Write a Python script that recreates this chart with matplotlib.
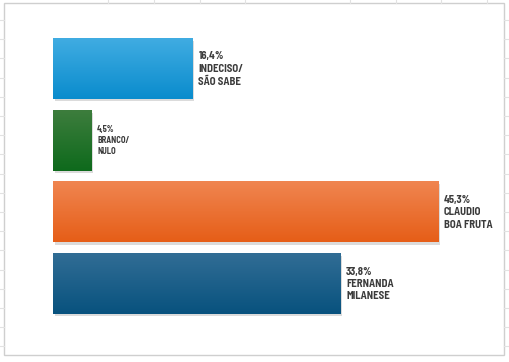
import numpy as np
import matplotlib.pyplot as plt
from matplotlib.lines import Line2D
from matplotlib.patches import Rectangle
from matplotlib.colors import LinearSegmentedColormap
import matplotlib.patheffects as pe

plt.rcParams['font.family'] = ['Barlow Semi Condensed', 'Roboto Condensed', 'DejaVu Sans']

# data
categories = ["INDECISO/\nSÃO SABE", "BRANCO/\nNULO", "CLAUDIO\nBOA FRUTA", "FERNANDA\nMILANESE"]
values = [16.4, 4.5, 45.3, 33.8]
value_labels = ["16,4%", "4,5%", "45,3%", "33,8%"]

# gradient colours (top, bottom) per bar
grad_colors = [("#40ace2", "#0a8ccd"),
               ("#3d7d3d", "#0e6a1c"),
               ("#f08550", "#e65e18"),
               ("#316d95", "#08527e")]
label_sizes = [7.7, 6.1, 7.7, 7.7]

W, H = 509, 362
fig = plt.figure(figsize=(W / 100, H / 100), dpi=100)

# chart area box (pixels)
cx0, cx1, cy0, cy1 = 3.5, 504, 2.5, 355

# faint spreadsheet gridlines, only visible outside the chart area
grid_c = "#e2e2e2"
col_x = [108, 154, 200, 245, 350, 396, 441, 487]
for x in col_x:
    fig.add_artist(Line2D([x / W] * 2, [1, 1 - cy0 / H], color=grid_c, lw=0.8))
for k in range(19):
    y = 1 - (20 + 19.2 * k) / H
    fig.add_artist(Line2D([0, cx0 / W], [y, y], color=grid_c, lw=0.8))
    fig.add_artist(Line2D([cx1 / W, 1], [y, y], color=grid_c, lw=0.8))

fig.add_artist(Rectangle((cx0 / W, 1 - cy1 / H), (cx1 - cx0) / W, (cy1 - cy0) / H,
                         transform=fig.transFigure, facecolor="none",
                         edgecolor="#cfcfcf", lw=1.0))

# plot area: bars start at x=53px, 8.5 px per percent
left, right = 53, 53 + 8.5 * 50
top, bottom = 33.2, 319.8
ax = fig.add_axes([left / W, 1 - bottom / H, (right - left) / W, (bottom - top) / H])
ax.set_facecolor("none")

pos = np.arange(len(values))
bh = 0.84
bars = ax.barh(pos, values, height=bh, color=[c[1] for c in grad_colors], zorder=2)
for b in bars:
    b.set_path_effects([pe.SimplePatchShadow(offset=(1.2, -1.5), shadow_rgbFace="#8a8a8a", alpha=0.3),
                        pe.Normal()])

grad = np.linspace(0, 1, 64).reshape(-1, 1)
for i, (c_top, c_bot) in enumerate(grad_colors):
    cmap = LinearSegmentedColormap.from_list(f"g{i}", [c_top, c_bot])
    y0 = pos[i] - bh / 2
    ax.imshow(grad, cmap=cmap, aspect="auto", extent=(0, values[i], y0 + bh, y0),
              zorder=3, interpolation="bilinear")

for i, v in enumerate(values):
    ax.text(v + 0.7, pos[i], value_labels[i] + "\n" + categories[i],
            va="center", ha="left", fontsize=label_sizes[i], fontweight="bold",
            color="#3c3c3c", linespacing=1.3)

ax.set_xlim(0, 50)
ax.set_ylim(len(values) - 0.5, -0.5)
ax.axis("off")

fig.savefig("out.png", dpi=100)
